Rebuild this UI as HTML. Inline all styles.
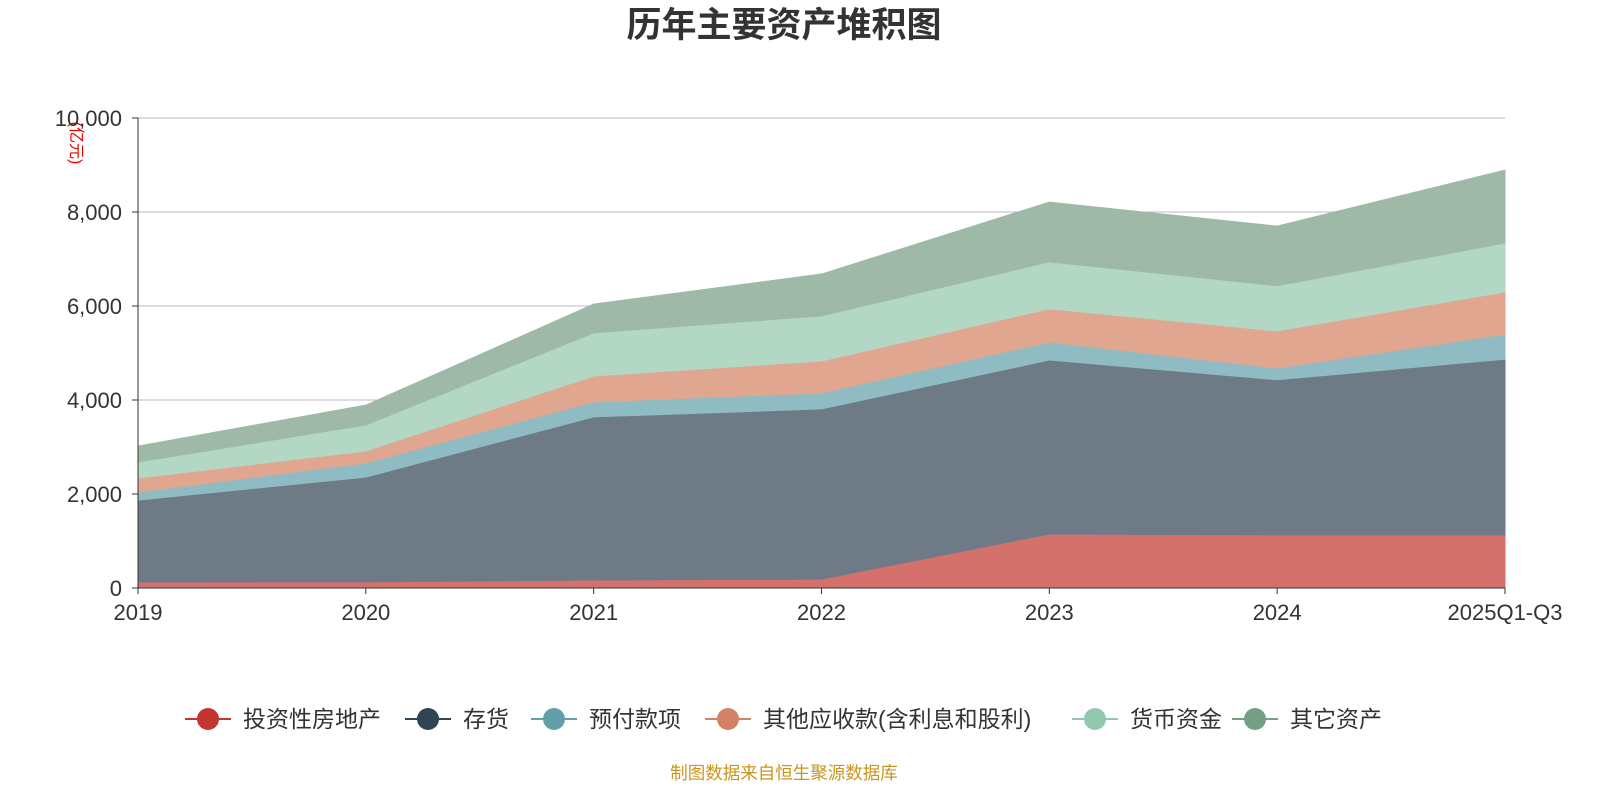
<!DOCTYPE html>
<html><head><meta charset="utf-8">
<style>
html,body{margin:0;padding:0;background:#fff;}
svg text{font-family:"Liberation Sans","Noto Sans CJK SC",sans-serif;}
</style></head>
<body>
<svg id="c" width="1600" height="800" xmlns="http://www.w3.org/2000/svg">
<text x="784" y="37" text-anchor="middle" font-size="35" font-weight="bold" fill="#333">历年主要资产堆积图</text>
<text transform="translate(71,143) rotate(90)" text-anchor="middle" font-size="16" fill="#e00">(亿元)</text>
<g id="grid"></g><g id="areas"></g><g id="axes"></g><g id="legend"></g>
<text x="784" y="779" text-anchor="middle" font-size="17.5" fill="#c8961e">制图数据来自恒生聚源数据库</text>
</svg>
<script>
const categories=["2019","2020","2021","2022","2023","2024","2025Q1-Q3"];
const seriesNames=["投资性房地产","存货","预付款项","其他应收款(含利息和股利)","货币资金","其它资产"];
const invest=[128,130,170,190,1150,1130,1130];
const inventory=[1744,2230,3470,3620,3700,3300,3740];
const prepaid=[171,300,320,340,380,250,530];
const otherRec=[297,255,550,680,710,790,900];
const cash=[340,555,920,960,1000,960,1040];
const otherAssets=[340,420,610,890,1270,1270,1550];
const yTicks=[0,2000,4000,6000,8000,10000];
const series=[invest,inventory,prepaid,otherRec,cash,otherAssets];
const fills=["#d4716d","#6e7b86","#8fbcc3","#e0a690","#b2d7c5","#9eb9a7"];
const legendColors=["#c23531","#2f4554","#61a0a8","#d48265","#91c7ae","#749f83"];
const NS="http://www.w3.org/2000/svg";
const X0=138,X1=1505,Y0=588,Y1=118,YMAX=10000;
const xs=i=>X0+(X1-X0)*i/(categories.length-1);
const ys=v=>Y0-(Y0-Y1)*v/YMAX;
function mk(t,a,p){const e=document.createElementNS(NS,t);for(const k in a)e.setAttribute(k,a[k]);p.appendChild(e);return e;}
const grid=document.getElementById('grid'),axes=document.getElementById('axes'),areas=document.getElementById('areas'),leg=document.getElementById('legend');
yTicks.forEach(v=>{
 if(v>0){const g=mk('line',{x1:X0,x2:X1,y1:ys(v),y2:ys(v),stroke:'#bbb','stroke-width':1},grid);
 
 }
 const t=mk('text',{x:122,y:ys(v)+8,'text-anchor':'end','font-size':22,fill:'#333'},axes);t.textContent=v.toLocaleString('en-US');
 
 
 mk('line',{x1:X0-6,x2:X0,y1:ys(v),y2:ys(v),stroke:'#333'},axes);
});
let cum=categories.map(()=>0);
series.forEach((s,k)=>{
 const lower=cum.slice();cum=cum.map((c,i)=>c+s[i]);
 let d='M'+categories.map((_,i)=>xs(i)+','+ys(cum[i])).join(' L');
 for(let i=categories.length-1;i>=0;i--)d+=' L'+xs(i)+','+ys(lower[i]);
 const p=mk('path',{d:d+'Z',fill:fills[k],stroke:fills[k],'stroke-width':1},areas);
 
 
});
mk('line',{x1:X0,x2:X0,y1:Y1,y2:Y0,stroke:'#333'},axes);
mk('line',{x1:X0,x2:X1,y1:Y0,y2:Y0,stroke:'#333'},axes);
categories.forEach((c,i)=>{
 mk('line',{x1:xs(i),x2:xs(i),y1:Y0,y2:Y0+6,stroke:'#333'},axes);
 const t=mk('text',{x:xs(i),y:620,'text-anchor':'middle','font-size':22,fill:'#333'},axes);t.textContent=c;
 
 
});
const lx=[185,405,531,705,1072,1232];
seriesNames.forEach((n,k)=>{
 const g=mk('g',{},leg);
 
 
 mk('line',{x1:lx[k],x2:lx[k]+46,y1:719,y2:719,stroke:legendColors[k],'stroke-width':2},g);
 mk('circle',{cx:lx[k]+23,cy:719,r:11,fill:legendColors[k]},g);
 const t=mk('text',{x:lx[k]+58,y:727,'font-size':23,fill:'#333'},g);t.textContent=n;
});
</script>
</body></html>
